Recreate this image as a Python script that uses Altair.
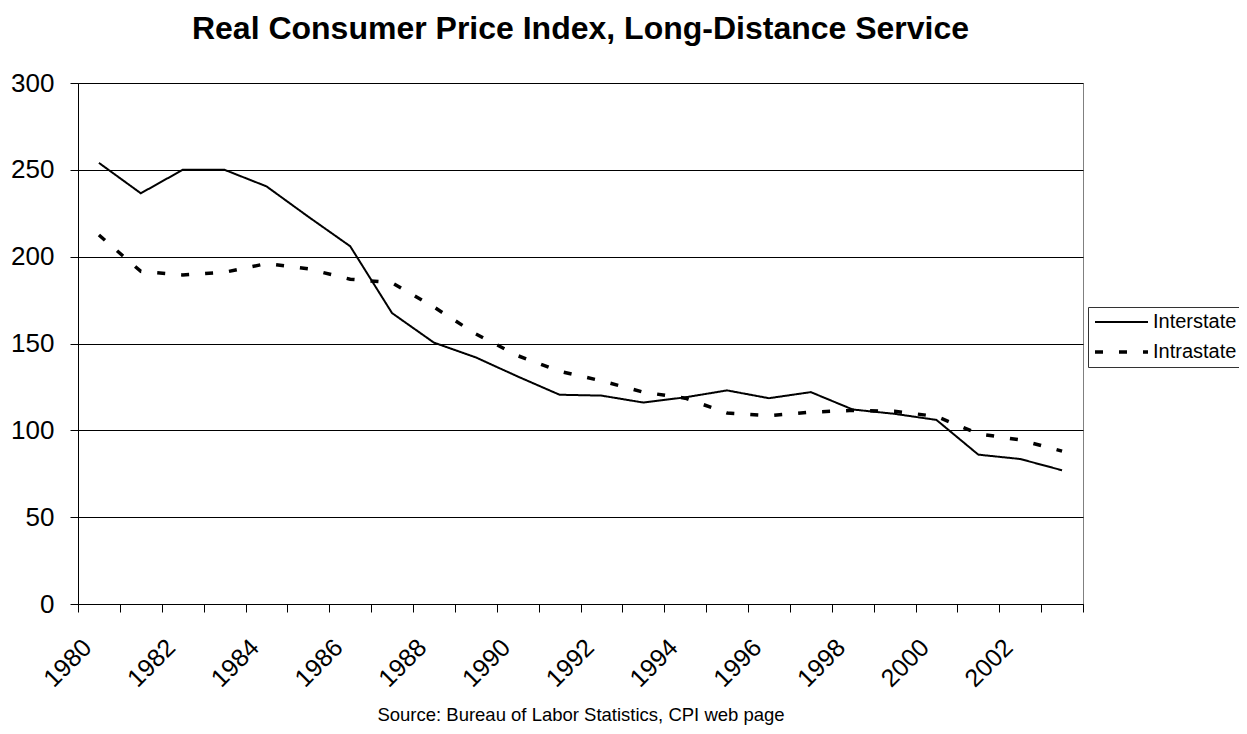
import altair as alt
import pandas as pd

years = list(range(1980, 2004))
interstate = [254, 236.5, 250, 250, 240.5, 223, 206, 167.5, 150.5, 142, 131, 120.5,
              120, 116, 119, 123, 118.5, 122, 112, 109.5, 106, 86, 83.5, 77]
intrastate = [212.5, 191.5, 189.5, 191, 196, 193, 187, 185, 171, 155.5, 143, 134,
              128.5, 122, 118.5, 110, 108.5, 110.5, 111.5, 111, 108, 98, 94.5, 88]
series_names = ["Interstate", "Intrastate"]
y_ticks = [0, 50, 100, 150, 200, 250, 300]
x_tick_positions = [y - 0.5 for y in range(1980, 2005)]
title_text = "Real Consumer Price Index, Long-Distance Service"
source_text = "Source: Bureau of Labor Statistics, CPI web page"

rows = []
for name, vals in zip(series_names, [interstate, intrastate]):
    for yr, v in zip(years, vals):
        rows.append({"year": yr, "value": v, "series": name})
df = pd.DataFrame(rows)

FONT = "Liberation Sans"

legend = alt.Legend(
    orient="none", legendX=1010, legendY=224, title=None,
    labelFontSize=20, labelFont=FONT, labelColor="black",
    symbolType="stroke", symbolSize=2809, symbolStrokeColor="black",
    padding=5, rowPadding=10, labelOffset=3, clipHeight=20,
    strokeColor="#333333", fillColor="white",
)

chart = alt.Chart(df).mark_line(color="black", strokeCap="butt").encode(
    x=alt.X(
        "year:Q",
        scale=alt.Scale(domain=[1979.5, 2003.5], nice=False, zero=False),
        axis=alt.Axis(
            values=x_tick_positions, grid=False, tickSize=8, tickColor="black",
            domainColor="black", labelAngle=315, labelAlign="right",
            labelBaseline="middle", labelOffset=9, labelPadding=31,
            labelFontSize=25, labelFont=FONT, labelColor="black",
            labelFlush=False, labelOverlap=False, labelBound=False,
            labelExpr="(datum.value < 2003) && ((datum.value + 0.5) % 2 == 0) ? '' + (datum.value + 0.5) : ''",
            title=source_text, titleFontSize=18.5, titleFont=FONT,
            titleFontWeight="normal", titleColor="black", titleY=116,
            titleBaseline="alphabetic",
        ),
    ),
    y=alt.Y(
        "value:Q",
        scale=alt.Scale(domain=[0, 300], nice=False),
        axis=alt.Axis(
            values=y_ticks, grid=True, gridColor="black", gridWidth=1,
            tickSize=8, tickColor="black", domainColor="black",
            labelFontSize=26, labelFont=FONT, labelColor="black",
            labelPadding=16, title=None,
        ),
    ),
    strokeDash=alt.StrokeDash(
        "series:N",
        scale=alt.Scale(domain=series_names, range=[[1, 0], [8, 16]]),
        legend=legend,
    ),
    strokeWidth=alt.StrokeWidth(
        "series:N",
        scale=alt.Scale(type="point", domain=series_names, range=[2, 3.5], padding=0),
        legend=legend,
    ),
).properties(
    width=1005,
    height=521,
    autosize=alt.AutoSizeParams(type="none"),
    padding={"left": 70, "top": 75, "right": 156, "bottom": 122},
    title=alt.TitleParams(
        title_text, fontSize=32, font=FONT, fontWeight="bold", color="black",
        anchor="middle", baseline="alphabetic", offset=0, dy=1,
    ),
).configure_view(stroke="#808080", strokeWidth=1)

chart.save("out.html", embed_options={"renderer": "svg", "actions": False})
